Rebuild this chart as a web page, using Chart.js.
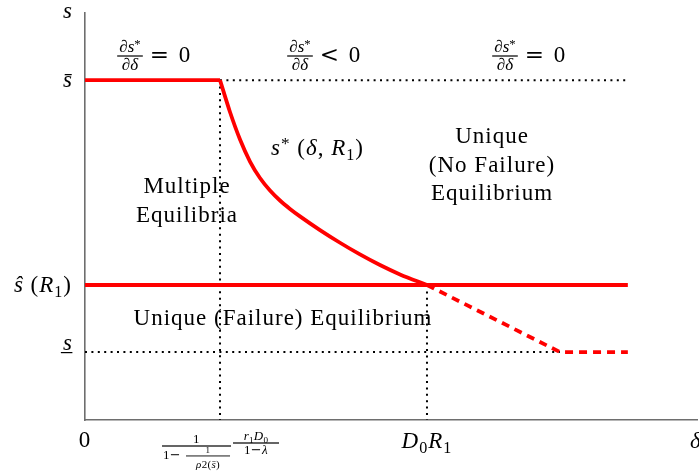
<!DOCTYPE html>
<html><head><meta charset="utf-8">
<script src="https://cdn.jsdelivr.net/npm/chart.js@4.4.1/dist/chart.umd.min.js"></script>
<style>html,body{margin:0;padding:0;background:#fff}</style>
</head><body>
<canvas id="c" width="699" height="472"></canvas>
<script>
// ---- data (arbitrary units: delta on x 0..100, s on y 0..100) ----
const deltaThreshold = 22.06;   // 1/(1-1/rho2(s̄)) · r1 D0/(1-λ)
const deltaD0R1 = 55.88;        // D0 R1
const deltaFloor = 77.6;
const deltaEnd = 88.7;
const sBar = 83.5;              // s̄
const sHat = 33.17;             // ŝ(R1)
const sLow = 16.7;              // s̲
const curveDelta = [22.06, 23.69, 25.33, 26.96, 28.59, 30.23, 31.86, 33.50, 35.13, 38.40, 41.67, 44.93, 48.20, 51.47, 55.88];
const curveS     = [83.5, 75.68, 68.92, 63.51, 59.46, 56.39, 53.93, 51.87, 50.04, 46.67, 43.55, 40.68, 38.07, 35.76, 33.17];
const xTickValues = [0, deltaThreshold, deltaD0R1];
const yTickValues = [sBar, sHat, sLow];

const RED = '#ff0000';
const pts = (xs, ys) => xs.map((x, i) => ({x, y: ys[i]}));

const redSolid = {borderColor: RED, borderWidth: 3.8, pointRadius: 0, showLine: true, fill: false, order: 0, borderCapStyle: 'butt', borderJoinStyle: 'miter'};
const dotted = {borderColor: '#000', borderWidth: 2, borderDash: [2, 4.4], pointRadius: 0, showLine: true, fill: false, order: 2};

const datasets = [
  Object.assign({data: pts([0, deltaThreshold], [sBar, sBar])}, redSolid),
  Object.assign({data: pts(curveDelta, curveS), cubicInterpolationMode: 'monotone'}, redSolid),
  Object.assign({data: pts([0, deltaEnd], [sHat, sHat])}, redSolid),
  Object.assign({data: pts([deltaD0R1, deltaFloor, deltaEnd], [sHat, sLow, sLow]), borderDash: [8, 6]}, redSolid),
  Object.assign({data: pts([deltaThreshold, deltaEnd], [sBar, sBar])}, dotted),
  Object.assign({data: pts([0, deltaFloor], [sLow, sLow])}, dotted),
  Object.assign({data: pts([deltaThreshold, deltaThreshold], [sBar, 0])}, dotted),
  Object.assign({data: pts([deltaD0R1, deltaD0R1], [sHat, 0])}, dotted),
];

// ---- math-ish text helpers ----
const FF = '"Liberation Serif", "Times New Roman", serif';
const FO = '"DejaVu Serif", serif';
function setFont(ctx, size, it, op) { ctx.font = (it ? 'italic ' : '') + size + 'px ' + (op ? FO : FF); }
function runW(ctx, runs, size) {
  let w = 0;
  for (const r of runs) { setFont(ctx, size * (r.s || 1), r.i, r.o); w += ctx.measureText(r.t).width + (r.g || 0) * size; }
  return w;
}
function drawRuns(ctx, runs, x, y, size, align) {
  const w = runW(ctx, runs, size);
  let cx = align === 'center' ? x - w / 2 : align === 'right' ? x - w : x;
  ctx.textAlign = 'left'; ctx.textBaseline = 'alphabetic';
  for (const r of runs) {
    setFont(ctx, size * (r.s || 1), r.i, r.o);
    ctx.fillText(r.t, cx, y + (r.dy || 0) * size);
    cx += ctx.measureText(r.t).width + (r.g || 0) * size;
  }
  return w;
}
function drawFrac(ctx, num, den, cx, barY, size, lw) {
  const w = Math.max(runW(ctx, num, size), runW(ctx, den, size)) + size * 0.25;
  ctx.fillRect(cx - w / 2, barY - lw / 2, w, lw);
  drawRuns(ctx, num, cx, barY - size * 0.22, size, 'center');
  drawRuns(ctx, den, cx, barY + size * 0.8, size, 'center');
  return w;
}
const dsdd = () => ({
  num: [{t: '∂'}, {t: 's', i: true}, {t: '*', s: 0.75, dy: -0.25}],
  den: [{t: '∂'}, {t: 'δ', i: true}]
});

const labelPlugin = {
  id: 'labels',
  afterDraw(chart) {
    const ctx = chart.ctx;
    const xs = chart.scales.x, ys = chart.scales.y;
    ctx.save();
    ctx.fillStyle = '#000';
    ctx.letterSpacing = '1px';
    const B = 23;

    // axis titles
    drawRuns(ctx, [{t: 's', i: true}], 68, 18, B, 'center');
    drawRuns(ctx, [{t: 'δ', i: true}], 690, 448, B, 'left');

    // y tick labels
    const yl = ys.getPixelForValue(yTickValues[0]);
    drawRuns(ctx, [{t: 's\u0304', i: true}], 68, yl + 7, B, 'center');
    const yh = ys.getPixelForValue(yTickValues[1]);
    drawRuns(ctx, [{t: 'ŝ', i: true}, {t: ' ('}, {t: 'R', i: true}, {t: '1', s: 0.7, dy: 0.2}, {t: ')'}], 72, yh + 7, B, 'right');
    const ylo = ys.getPixelForValue(yTickValues[2]);
    drawRuns(ctx, [{t: 's\u0332', i: true}], 68, ylo - 2, B, 'center');

    // x tick labels
    drawRuns(ctx, [{t: '0'}], xs.getPixelForValue(xTickValues[0]), 447, B, 'center');
    drawRuns(ctx, [{t: 'D', i: true}, {t: '0', s: 0.7, dy: 0.2}, {t: 'R', i: true}, {t: '1', s: 0.7, dy: 0.2}], xs.getPixelForValue(xTickValues[2]), 448, B, 'center');

    // threshold label: 1/(1 - 1/rho2(s̄)) * r1 D0/(1-λ)
    ctx.letterSpacing = '0.3px';
    const xt = xs.getPixelForValue(xTickValues[1]);
    const S = 13;
    const f1L = xt - 58, f1W = 69, bar1 = 446;
    ctx.fillRect(f1L, bar1 - 0.6, f1W, 1.2);
    drawRuns(ctx, [{t: '1'}], f1L + f1W / 2, bar1 - 3, S, 'center');
    drawRuns(ctx, [{t: '1'}, {t: '−', o: true}], f1L + 1, 459, S, 'left');
    const nf = f1L + 24;
    ctx.fillRect(nf, 455.5, 44, 0.9);
    drawRuns(ctx, [{t: '1'}], nf + 22, 453, 9, 'center');
    drawRuns(ctx, [{t: 'ρ', i: true}, {t: '2'}, {t: '('}, {t: 's\u0304', i: true}, {t: ')'}], nf + 22, 468, 11, 'center');
    const c2 = xt + 36, bar2 = 443;
    ctx.fillRect(c2 - 23, bar2 - 0.6, 46, 1.2);
    drawRuns(ctx, [{t: 'r', i: true}, {t: '1', s: 0.7, dy: 0.2}, {t: 'D', i: true}, {t: '0', s: 0.7, dy: 0.2}], c2, bar2 - 3, S, 'center');
    drawRuns(ctx, [{t: '1'}, {t: '−', o: true}, {t: 'λ', i: true}], c2, bar2 + 11, S, 'center');

    // derivative labels at the top
    const F = 17;
    const tops = [{cx: 130, rel: '='}, {cx: 300, rel: '<'}, {cx: 505, rel: '='}];
    ctx.letterSpacing = '0px';
    for (const tp of tops) {
      const d = dsdd();
      const w = drawFrac(ctx, d.num, d.den, tp.cx, 56, F, 1.2);
      drawRuns(ctx, [{t: tp.rel, o: true}], tp.cx + w / 2 + 7, 62, B, 'left');
      drawRuns(ctx, [{t: '0'}], tp.cx + w / 2 + 36, 62, B, 'left');
    }

    // curve label
    ctx.letterSpacing = '1px';
    drawRuns(ctx, [{t: 's', i: true}, {t: '*', s: 0.75, dy: -0.25}, {t: ' ('}, {t: 'δ', i: true}, {t: ', '}, {t: 'R', i: true}, {t: '1', s: 0.7, dy: 0.2}, {t: ')'}], 271, 155, B, 'left');

    // region labels
    const txt = (t, x, y) => { setFont(ctx, B, false); ctx.textAlign = 'center'; ctx.fillText(t, x, y); };
    txt('Multiple', 187, 193);
    txt('Equilibria', 187, 222);
    txt('Unique', 492, 143);
    txt('(No Failure)', 492, 172);
    txt('Equilibrium', 492, 200);
    txt('Unique (Failure) Equilibrium', 283, 325);
    ctx.restore();
  }
};

new Chart(document.getElementById('c'), {
  type: 'scatter',
  data: {datasets},
  options: {
    responsive: false,
    animation: false,
    devicePixelRatio: 1,
    layout: {padding: {left: 85, right: 2, top: 13, bottom: 52}},
    plugins: {legend: {display: false}, tooltip: {enabled: false}},
    scales: {
      x: {type: 'linear', min: 0, max: 100,
          ticks: {display: false}, grid: {display: false, drawTicks: false},
          border: {display: true, color: '#6e6e6e', width: 1.6}},
      y: {type: 'linear', min: 0, max: 100,
          ticks: {display: false}, grid: {display: false, drawTicks: false},
          border: {display: true, color: '#6e6e6e', width: 1.6}}
    }
  },
  plugins: [labelPlugin]
});
</script>
</body></html>
